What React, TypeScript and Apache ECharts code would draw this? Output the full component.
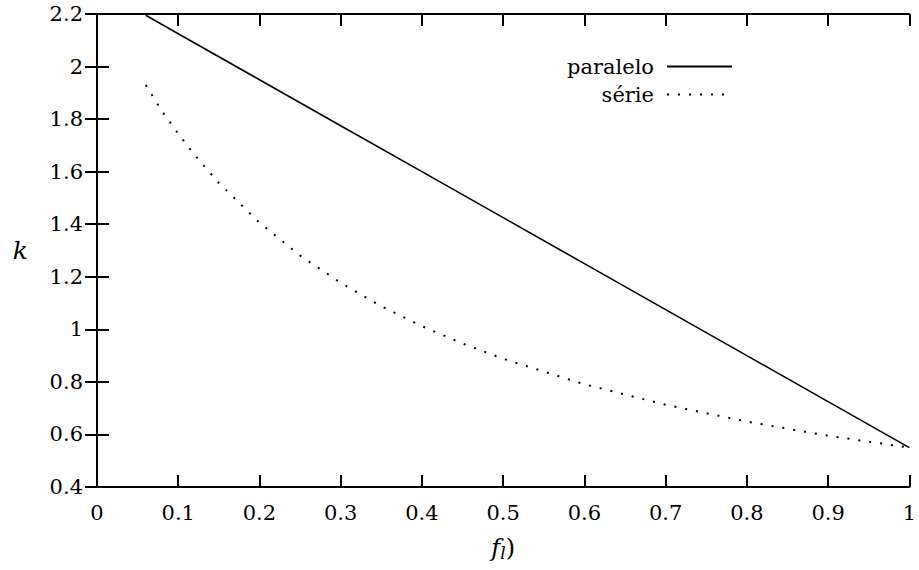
import React, { useEffect, useRef } from "react";
import * as echarts from "echarts";

const paraleloX = [0.06, 0.1, 0.2, 0.3, 0.4, 0.5, 0.6, 0.7, 0.8, 0.9, 1.0];
const paraleloK = [2.195, 2.125, 1.95, 1.775, 1.6, 1.425, 1.25, 1.075, 0.9, 0.725, 0.55];

const serieX = [0.06, 0.08, 0.1, 0.12, 0.15, 0.2, 0.25, 0.3, 0.35, 0.4, 0.45, 0.5, 0.6, 0.7, 0.8, 0.9, 1.0];
const serieK = [1.93, 1.83, 1.745, 1.664, 1.557, 1.406, 1.281, 1.177, 1.088, 1.012, 0.946, 0.888, 0.791, 0.713, 0.649, 0.595, 0.55];

const xTickLabels = ["0", "0.1", "0.2", "0.3", "0.4", "0.5", "0.6", "0.7", "0.8", "0.9", "1"];
const yTickLabels = ["0.4", "0.6", "0.8", "1", "1.2", "1.4", "1.6", "1.8", "2", "2.2"];

const FONT = "DejaVu Serif";
const FS = 21;

export default function App() {
  const ref = useRef<HTMLDivElement>(null);
  useEffect(() => {
    document.body.style.margin = "0";
    const chart = echarts.init(ref.current!, null, { renderer: "svg" });
    const axisLine = { show: true, lineStyle: { color: "#000", width: 2 } };
    const axisTick = { show: true, inside: true, length: 12, lineStyle: { color: "#000", width: 2 } };
    const xLabelFmt = (v: number) => {
      const i = Math.round(v * 10);
      return xTickLabels[i] ?? "";
    };
    const yLabelFmt = (v: number) => {
      const i = Math.round((v - 0.4) / 0.2);
      return yTickLabels[i] ?? "";
    };
    chart.setOption({
      animation: false,
      backgroundColor: "#fff",
      textStyle: { fontFamily: FONT },
      grid: { left: 97, right: 5, top: 14, bottom: 83, containLabel: false },
      legend: {
        orient: "vertical",
        right: 186,
        top: 56,
        padding: 0,
        align: "right",
        itemWidth: 65,
        itemHeight: 14,
        itemGap: 7,
        itemStyle: { opacity: 0 },
        textStyle: { fontFamily: FONT, fontSize: FS, color: "#000", padding: [0, 8, 0, 0] },
        data: ["paralelo", "série"],
      },
      xAxis: [
        {
          type: "value",
          min: 0,
          max: 1,
          interval: 0.1,
          position: "bottom",
          splitLine: { show: false },
          axisLine,
          axisTick,
          axisLabel: { fontFamily: FONT, fontSize: FS, color: "#000", margin: 15, formatter: xLabelFmt },
          name: "{f|f}{l|l}{p|)}",
          nameLocation: "middle",
          nameGap: 47,
          nameTextStyle: {
            rich: {
              f: { fontFamily: FONT, fontSize: 24, fontStyle: "italic", color: "#000" },
              l: { fontFamily: FONT, fontSize: 17, fontStyle: "italic", color: "#000", verticalAlign: "bottom", padding: [10, 0, 0, 0] },
              p: { fontFamily: FONT, fontSize: 24, color: "#000" },
            },
          },
        },
        {
          type: "value",
          min: 0,
          max: 1,
          interval: 0.1,
          position: "top",
          splitLine: { show: false },
          axisLine,
          axisTick,
          axisLabel: { show: false },
        },
      ],
      yAxis: [
        {
          type: "value",
          min: 0.4,
          max: 2.2,
          interval: 0.2,
          position: "left",
          splitLine: { show: false },
          axisLine,
          axisTick,
          axisLabel: { fontFamily: FONT, fontSize: FS, color: "#000", margin: 14, formatter: yLabelFmt },
          name: "k",
          nameLocation: "middle",
          nameRotate: 0,
          nameGap: 69,
          nameTextStyle: { fontFamily: FONT, fontSize: 25, fontStyle: "italic", color: "#000", padding: [8, 0, 0, 0] },
        },
        {
          type: "value",
          min: 0.4,
          max: 2.2,
          interval: 0.2,
          position: "right",
          splitLine: { show: false },
          axisLine,
          axisTick,
          axisLabel: { show: false },
        },
      ],
      series: [
        {
          name: "paralelo",
          type: "line",
          xAxisIndex: 0,
          yAxisIndex: 0,
          symbol: "none",
          data: paraleloX.map((x, i) => [x, paraleloK[i]]),
          lineStyle: { color: "#000", width: 1.6 },
          itemStyle: { color: "#000" },
        },
        {
          name: "série",
          type: "line",
          xAxisIndex: 0,
          yAxisIndex: 0,
          symbol: "none",
          data: serieX.map((x, i) => [x, serieK[i]]),
          lineStyle: { color: "#000", width: 2, type: [2, 9] },
          itemStyle: { color: "#000" },
        },
      ],
    });
    return () => chart.dispose();
  }, []);
  return <div ref={ref} style={{ width: 919, height: 570 }} />;
}
